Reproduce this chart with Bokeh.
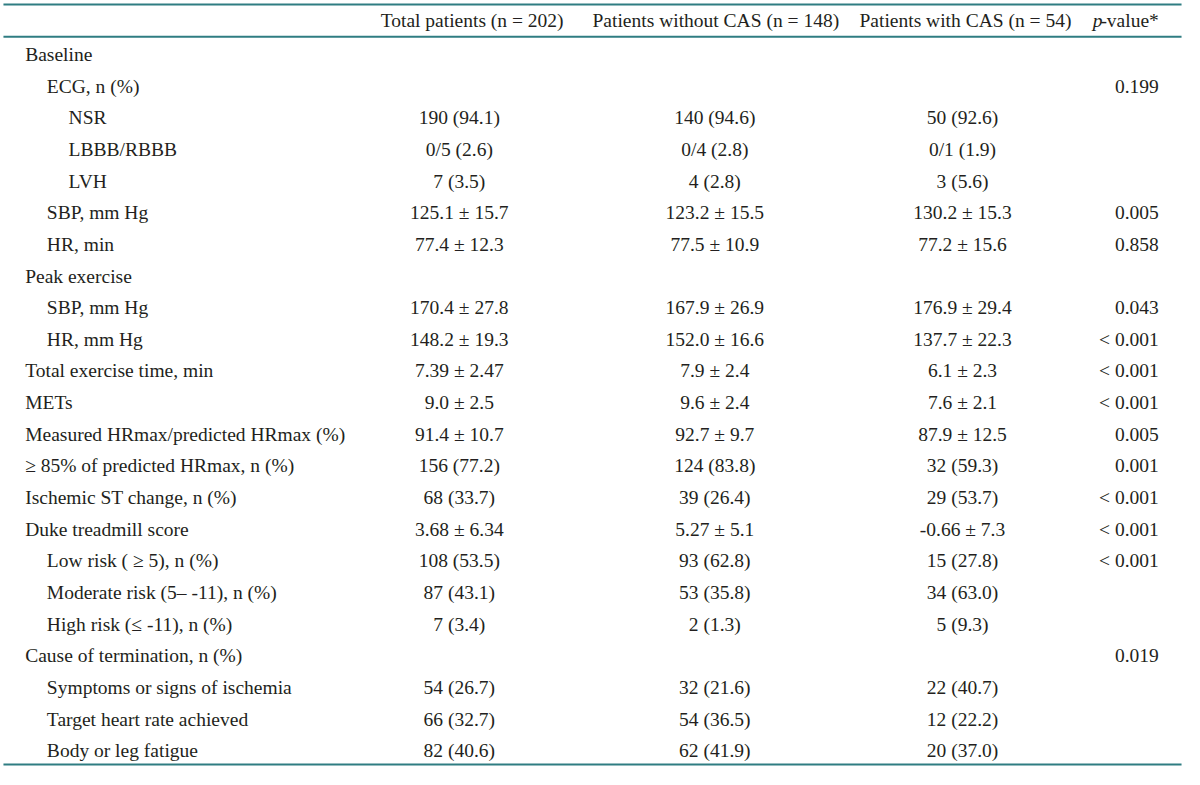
from bokeh.plotting import figure
from bokeh.models import Range1d, ColumnDataSource
from bokeh.core.properties import value
from bokeh.embed import file_html
from bokeh.resources import INLINE

headers = ["Total patients (n = 202)", "Patients without CAS (n = 148)", "Patients with CAS (n = 54)"]
p_header_italic = "p"
p_header_rest = "-value*"

labels = ["Baseline", "ECG, n (%)", "NSR", "LBBB/RBBB", "LVH", "SBP, mm Hg", "HR, min",
          "Peak exercise", "SBP, mm Hg", "HR, mm Hg", "Total exercise time, min", "METs",
          "Measured HRmax/predicted HRmax (%)", "\u2265 85% of predicted HRmax, n (%)",
          "Ischemic ST change, n (%)", "Duke treadmill score", "Low risk ( \u2265 5), n (%)",
          "Moderate risk (5\u2013 -11), n (%)", "High risk (\u2264 -11), n (%)",
          "Cause of termination, n (%)", "Symptoms or signs of ischemia",
          "Target heart rate achieved", "Body or leg fatigue"]
levels = [0, 1, 2, 2, 2, 1, 1, 0, 1, 1, 0, 0, 0, 0, 0, 0, 1, 1, 1, 0, 1, 1, 1]

total = ["", "", "190 (94.1)", "0/5 (2.6)", "7 (3.5)", "125.1 \u00b1 15.7", "77.4 \u00b1 12.3", "",
         "170.4 \u00b1 27.8", "148.2 \u00b1 19.3", "7.39 \u00b1 2.47", "9.0 \u00b1 2.5", "91.4 \u00b1 10.7",
         "156 (77.2)", "68 (33.7)", "3.68 \u00b1 6.34", "108 (53.5)", "87 (43.1)", "7 (3.4)", "",
         "54 (26.7)", "66 (32.7)", "82 (40.6)"]
without_cas = ["", "", "140 (94.6)", "0/4 (2.8)", "4 (2.8)", "123.2 \u00b1 15.5", "77.5 \u00b1 10.9", "",
               "167.9 \u00b1 26.9", "152.0 \u00b1 16.6", "7.9 \u00b1 2.4", "9.6 \u00b1 2.4", "92.7 \u00b1 9.7",
               "124 (83.8)", "39 (26.4)", "5.27 \u00b1 5.1", "93 (62.8)", "53 (35.8)", "2 (1.3)", "",
               "32 (21.6)", "54 (36.5)", "62 (41.9)"]
with_cas = ["", "", "50 (92.6)", "0/1 (1.9)", "3 (5.6)", "130.2 \u00b1 15.3", "77.2 \u00b1 15.6", "",
            "176.9 \u00b1 29.4", "137.7 \u00b1 22.3", "6.1 \u00b1 2.3", "7.6 \u00b1 2.1", "87.9 \u00b1 12.5",
            "32 (59.3)", "29 (53.7)", "-0.66 \u00b1 7.3", "15 (27.8)", "34 (63.0)", "5 (9.3)", "",
            "22 (40.7)", "12 (22.2)", "20 (37.0)"]
pvals = ["", "0.199", "", "", "", "0.005", "0.858", "", "0.043", "< 0.001", "< 0.001", "< 0.001",
         "0.005", "0.001", "< 0.001", "< 0.001", "< 0.001", "", "", "0.019", "", "", ""]

FONT = value("Liberation Serif")
FS = "19.5px"
TXT = "#231f20"
LINE = "#2f7d82"

p = figure(width=1184, height=769, output_backend="svg", toolbar_location=None,
           x_range=Range1d(0, 1200), y_range=Range1d(785, 0),
           min_border=0, background_fill_color="white", border_fill_color="white")
p.axis.visible = False
p.grid.visible = False
p.outline_line_color = None

n = len(labels)
row_y = [55 + i * 32.32 for i in range(n)]
label_x = [25 + 22 * lv for lv in levels]

def put(xs, ys, texts, align, style="normal"):
    src = ColumnDataSource(dict(x=xs, y=ys, t=texts))
    p.text(x="x", y="y", text="t", source=src, text_font=FONT, text_font_size=FS,
           text_color=TXT, text_align=align, text_baseline="middle", text_font_style=style)

# header
hy = 20
put([478, 725, 978], [hy] * 3, headers, "center")
put([1174], [hy], [p_header_rest], "right")
put([1117], [hy], [p_header_italic], "right", "italic")

# body
put(label_x, row_y, labels, "left")
put([465] * n, row_y, total, "center")
put([724] * n, row_y, without_cas, "center")
put([975] * n, row_y, with_cas, "center")
put([1174] * n, row_y, pvals, "right")

# rules
for yy in [4, 37, 780]:
    p.line([3, 1197], [yy, yy], line_color=LINE, line_width=2)

open("out.html", "w").write(file_html(p, INLINE))
